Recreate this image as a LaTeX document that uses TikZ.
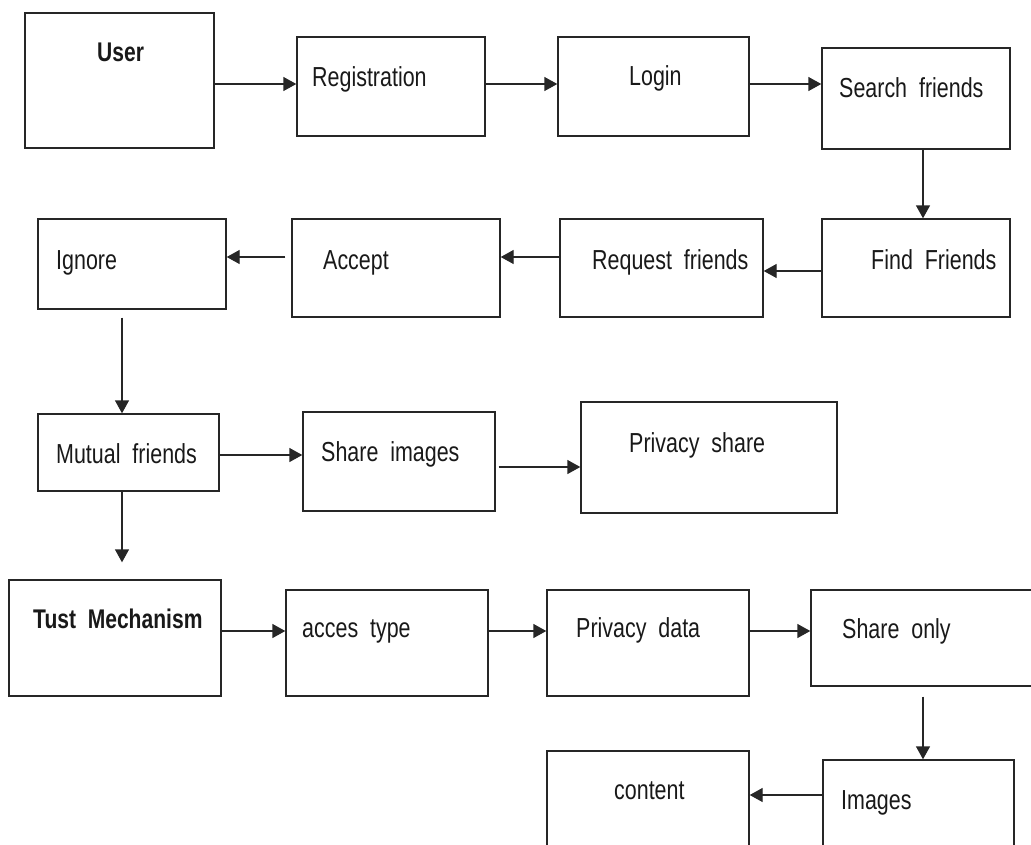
\documentclass[tikz,border=0pt]{standalone}
\usepackage{fontspec}
\setmainfont{Liberation Sans}[FakeStretch=0.78]
\usetikzlibrary{arrows.meta}
\begin{document}
\begin{tikzpicture}[x=1pt,y=-1pt,
  box/.style={draw=black!85, line width=1.4pt, inner sep=0pt},
  txt/.style={anchor=base west, inner sep=0pt, font=\fontsize{27.5}{30}\selectfont, text=black!90},
  btxt/.style={txt, font=\fontsize{27}{30}\selectfont\bfseries},
  arr/.style={draw=black!85, line width=1.4pt, -{Triangle[length=13pt,width=14pt]}}]
\clip (0,0) rectangle (1031,844);
\fill[white] (0,0) rectangle (1031,844);
% boxes
\node[box, minimum width=189pt, minimum height=135pt] (user) at (119.5,80.5) {};
\node[box, minimum width=188pt, minimum height=99pt] (reg) at (391,86.5) {};
\node[box, minimum width=191pt, minimum height=99pt] (login) at (653.5,86.5) {};
\node[box, minimum width=188pt, minimum height=101pt] (search) at (916,98.5) {};
\node[box, minimum width=188pt, minimum height=98pt] (find) at (916,268) {};
\node[box, minimum width=203pt, minimum height=98pt] (req) at (661.5,268) {};
\node[box, minimum width=208pt, minimum height=98pt] (accept) at (396,268) {};
\node[box, minimum width=188pt, minimum height=90pt] (ignore) at (132,264) {};
\node[box, minimum width=181pt, minimum height=77pt] (mutual) at (128.5,452.5) {};
\node[box, minimum width=192pt, minimum height=99pt] (shareimg) at (399,461.5) {};
\node[box, minimum width=256pt, minimum height=111pt] (privshare) at (709,457.5) {};
\node[box, minimum width=212pt, minimum height=116pt] (tust) at (115,638) {};
\node[box, minimum width=202pt, minimum height=106pt] (acces) at (387,643) {};
\node[box, minimum width=202pt, minimum height=106pt] (privdata) at (648,643) {};
\node[box, minimum width=234pt, minimum height=96pt] (shareonly) at (928,638) {};
\node[box, minimum width=191pt, minimum height=110pt] (images) at (918.5,815) {};
\node[box, minimum width=202pt, minimum height=119pt] (content) at (648,810.5) {};
% texts
\node[btxt] (tuser) at (97,61) {User};
\node[txt] (treg) at (312,86) {Registration};
\node[txt] (tlogin) at (629,85) {Login};
\node[txt] (tsearch) at (839,97) {Search~~friends};
\node[txt] (tignore) at (56,269) {Ignore};
\node[txt] (taccept) at (323,269) {Accept};
\node[txt] (treq) at (592,269) {Request~~friends};
\node[txt] (tfind) at (871,269) {Find~~Friends};
\node[txt] (tmutual) at (56,463) {Mutual~~friends};
\node[txt] (tshareimg) at (321,461) {Share~~images};
\node[txt] (tprivshare) at (629,452) {Privacy~~share};
\node[btxt] (ttust) at (33,628) {Tust~~Mechanism};
\node[txt] (tacces) at (302,637) {acces~~type};
\node[txt] (tprivdata) at (576,637) {Privacy~~data};
\node[txt] (tshareonly) at (842,638) {Share~~only};
\node[txt] (tcontent) at (614,799) {content};
\node[txt] (timages) at (841,809) {Images};
% connectors
\draw[arr] (user.east |- 0,84) -- (reg.west |- 0,84);
\draw[arr] (reg.east |- 0,84) -- (login.west |- 0,84);
\draw[arr] (login.east |- 0,84) -- (search.west |- 0,84);
\draw[arr] (search.south -| 923,0) -- (find.north -| 923,0);
\draw[arr] (find.west |- 0,271) -- (req.east |- 0,271);
\draw[arr] (req.west |- 0,257) -- (accept.east |- 0,257);
\draw[arr, shorten <=6pt] (accept.west |- 0,257) -- (ignore.east |- 0,257);
\draw[arr, shorten <=8pt] (ignore.south -| 122,0) -- (mutual.north -| 122,0);
\draw[arr] (mutual.east |- 0,455) -- (shareimg.west |- 0,455);
\draw[arr, shorten <=3pt] (shareimg.east |- 0,467) -- (privshare.west |- 0,467);
\draw[arr, shorten >=17pt] (mutual.south -| 122,0) -- (tust.north -| 122,0);
\draw[arr] (tust.east |- 0,631) -- (acces.west |- 0,631);
\draw[arr] (acces.east |- 0,631) -- (privdata.west |- 0,631);
\draw[arr] (privdata.east |- 0,631) -- (shareonly.west |- 0,631);
\draw[arr, shorten <=10pt] (shareonly.south -| 923,0) -- (images.north -| 923,0);
\draw[arr] (images.west |- 0,795) -- (content.east |- 0,795);
\end{tikzpicture}
\end{document}
